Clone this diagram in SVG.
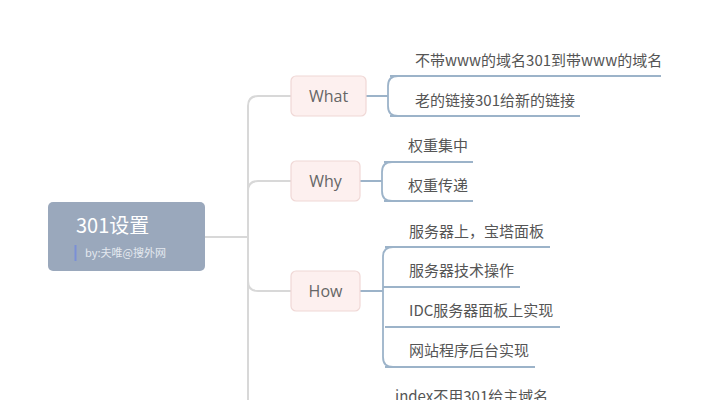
<svg xmlns="http://www.w3.org/2000/svg" width="708" height="400" viewBox="0 0 708 400">
<style>
.t{font-family:"Noto Sans CJK SC","Noto Sans",sans-serif;font-size:15px;fill:#555}
.b{font-family:"Open Sans","Noto Sans",sans-serif;font-size:16px;fill:#666;text-anchor:middle}
.box{fill:#fdf0ef;stroke:#f0d8d6;stroke-width:1.2}
.g{fill:none;stroke:#d8d8d8;stroke-width:2}
.c{fill:none;stroke:#9cb3c9;stroke-width:1.8}
</style>
<rect width="708" height="400" fill="#fff"/>
<g id="connectors">
<path class="g" d="M205,237H248M248,400V106Q248,96 258,96H291M248,191Q248,181 258,181H291M248,281Q248,291 258,291H291"/>
<path class="c" d="M366,96H388M398,76Q388,76 388,86V106Q388,116 398,116M390,76H661M390,116H580"/>
<path class="c" d="M360,181H382M392,162Q382,162 382,172V191Q382,201 392,201M384,162H473M384,201H473"/>
<path class="c" d="M360,291H383M393,247Q383,247 383,257V357Q383,367 393,367M385,247H550M383,287H520M385,327H560M385,367H535"/>
</g>
<g id="root">
<rect x="48" y="202" width="157" height="69" rx="5" fill="#9aa8bc"/>
<text x="76" y="233" style="font-family:'Noto Sans CJK SC',sans-serif;font-size:20px;fill:#fff">301设置</text>
<rect x="74.5" y="245" width="2" height="16" fill="#7b8fd6"/>
<text x="85" y="257" style="font-family:'Noto Sans CJK SC',sans-serif;font-size:11px;fill:#e4e8ef">by:夫唯@搜外网</text>
</g>
<g id="what"><rect class="box" x="291" y="76" width="75" height="40" rx="5"/><text class="b" x="328.5" y="102">What</text></g>
<g id="why"><rect class="box" x="291" y="161" width="69" height="40" rx="5"/><text class="b" x="325.5" y="187">Why</text></g>
<g id="how"><rect class="box" x="291" y="271" width="69" height="40" rx="5"/><text class="b" x="325.5" y="297">How</text></g>
<g id="leaves">
<text class="t" x="415" y="66">不带www的域名301到带www的域名</text>
<text class="t" x="415" y="106">老的链接301给新的链接</text>
<text class="t" x="408" y="151">权重集中</text>
<text class="t" x="408" y="191">权重传递</text>
<text class="t" x="409" y="237">服务器上，宝塔面板</text>
<text class="t" x="409" y="276">服务器技术操作</text>
<text class="t" x="409" y="316">IDC服务器面板上实现</text>
<text class="t" x="409" y="356">网站程序后台实现</text>
<text class="t" x="395" y="402">index不用301给主域名</text>
</g>
</svg>
